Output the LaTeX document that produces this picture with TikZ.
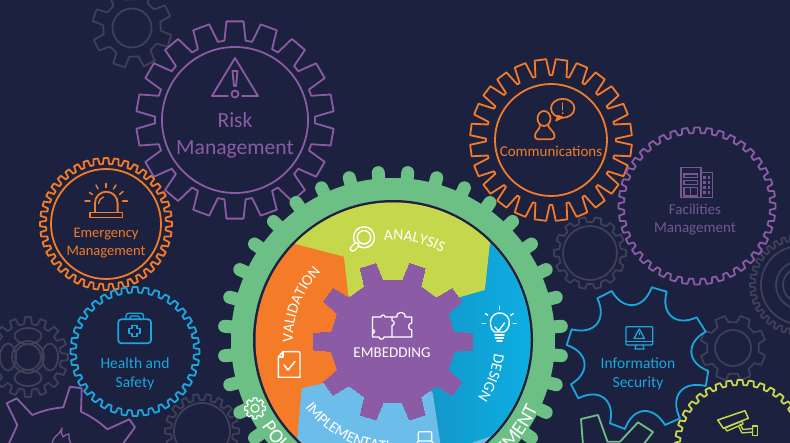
\documentclass[tikz,border=0pt]{standalone}
\usepackage{fontspec}
\setmainfont{Carlito}
\usetikzlibrary{decorations.text}

\definecolor{bgdark}{HTML}{1C2140}
\definecolor{gearpurple}{HTML}{8B5CA5}
\definecolor{dimpurple}{HTML}{75588F}
\definecolor{gearorange}{HTML}{F47B27}
\definecolor{gearblue}{HTML}{1AA7DF}
\definecolor{geargrey}{HTML}{3F4058}
\definecolor{geargreen}{HTML}{6CC085}
\definecolor{gearlime}{HTML}{C5D84C}
\definecolor{sectorlight}{HTML}{6DBDEA}
\definecolor{sectordeep}{HTML}{1590C0}
\definecolor{sectorcyan}{HTML}{0CB0E5}

\newcommand{\sectorfont}{\fontsize{15.5}{15.5}\selectfont\color{white}}
\newcommand{\ringfont}{\fontsize{20}{20}\selectfont\color{white}}

\newcommand{\gear}[8][.3]{%
  \draw[#8, shift={(#2,#3)}] ({#7+(1-#1)*360/#6}:#5)
    \foreach \k in {1,...,#6} {
      -- ({#7+(\k-#1)*360/#6}:#5) -- ({#7+(\k-.65*#1)*360/#6}:#4)
      -- ({#7+(\k+.65*#1)*360/#6}:#4) -- ({#7+(\k+#1)*360/#6}:#5)
    } -- cycle;}

\tikzset{
  gearline/.style={line width=1.8pt, line join=round},
  thinline/.style={line width=1.3pt, line cap=round, line join=round},
  label/.style={align=center, inner sep=0pt},
  whiteicon/.style={draw=white, line width=1.2pt, line cap=round, line join=round},
}

\begin{document}
\begin{tikzpicture}[x=1pt,y=-1pt]
  \useasboundingbox (0,0) rectangle (790,443);
  \clip (0,0) rectangle (790,443);
  \fill[bgdark] (0,0) rectangle (790,443);

  \gear[.3]{132}{28}{40}{29}{8}{19}{geargrey, gearline}
  \draw[geargrey, gearline] (132,28) circle[radius=19.5];
  \gear{28}{357}{40}{33}{16}{0}{geargrey, gearline}
  \draw[geargrey, gearline] (28,357) circle[radius=16];
  \draw[geargrey, gearline] (28,357) circle[radius=13];
  \draw[geargrey, gearline] (28,336) ellipse[x radius=13.5, y radius=8];
  \draw[geargrey, gearline] (28,378) ellipse[x radius=13.5, y radius=8];
  \draw[geargrey, gearline] (8,357) ellipse[x radius=8, y radius=13.5];
  \draw[geargrey, gearline] (50,357) ellipse[x radius=8, y radius=13.5];
  \gear{202}{431}{37}{31}{18}{0}{geargrey, gearline}
  \draw[geargrey, gearline] (202,431) circle[radius=28];
  \gear{590}{253}{36}{31}{14}{0}{geargrey, gearline}
  \draw[geargrey, gearline] (590,253) circle[radius=27];
  \gear{800}{285}{50}{45}{36}{0}{geargrey, gearline}
  \draw[geargrey, gearline] (800,285) circle[radius=39];
  \draw[geargrey, gearline] (800,285) circle[radius=24];
  \draw[geargrey, gearline] (800,285) circle[radius=17];
  \gear[.3]{733}{348}{33}{26}{8}{22}{geargrey, gearline}
  \draw[geargrey, gearline] (733,348) circle[radius=18];

  \gear[.38]{235}{120}{99}{80}{18}{90}{gearpurple, gearline}
  \draw[gearpurple, gearline] (235,120) circle[radius=73];
  \draw[gearpurple, thinline, line width=1.8pt] (235,58) -- (258,96) -- (242,96);
  \draw[gearpurple, thinline, line width=1.8pt] (228,96) -- (212,96) -- (235,58);
  \draw[gearpurple, thinline, line width=1.8pt] (232.5,71) -- (234,86) -- (236,86) -- (237.5,71) -- cycle;
  \draw[gearpurple, line width=1.8pt] (235,94) circle[radius=3.5];
  \node[label, text=gearpurple, font=\fontsize{21.6}{21.6}\selectfont] (riskWord) at (235,120) {Risk};
  \node[label, text=gearpurple, font=\fontsize{21.6}{21.6}\selectfont] (riskMgmt) at (235,149.5) {Management};

  \gear[.33]{106}{224}{66}{60}{40}{0}{gearorange, gearline}
  \draw[gearorange, gearline] (106,224) circle[radius=55];
  \draw[gearorange, thinline, line width=1.8pt] (90,212.5) rectangle (122.5,217.5);
  \draw[gearorange, thinline, line width=1.8pt] (95,212) -- (95,203) arc[start angle=180, end angle=360, radius=11.3] -- (117.6,212);
  \draw[gearorange, thinline] (98.5,203.5) to[bend left=30] (103.5,197);
  \draw[gearorange, thinline, line width=1.5pt] (85,201) -- (90,201);
  \draw[gearorange, thinline, line width=1.5pt] (89.5,192.5) -- (92.5,194.5);
  \draw[gearorange, thinline, line width=1.5pt] (96,185) -- (98,189);
  \draw[gearorange, thinline, line width=1.5pt] (106,183.5) -- (106,187.5);
  \draw[gearorange, thinline, line width=1.5pt] (116,185) -- (113.5,189);
  \draw[gearorange, thinline, line width=1.5pt] (123,191.5) -- (119.5,194.5);
  \draw[gearorange, thinline, line width=1.5pt] (127.5,201) -- (122.5,201);
  \node[label, text=gearorange, font=\fontsize{14.5}{14.5}\selectfont] (emergencyWord) at (106,234) {Emergency};
  \node[label, text=gearorange, font=\fontsize{14.5}{14.5}\selectfont] (emergencyMgmt) at (106,252.5) {Management};

  \gear[.33]{135}{351.5}{64.5}{59}{36}{0}{gearblue, gearline}
  \draw[gearblue, thinline, line width=1.7pt, rounded corners=3pt] (118.3,319.3) rectangle (151,343.3);
  \draw[gearblue, thinline, rounded corners=2.5pt] (126,319) -- (126,313.3) -- (143.5,313.3) -- (143.5,319);
  \draw[gearblue, thinline, rounded corners=1.5pt] (130,319) -- (130,316) -- (139.5,316) -- (139.5,319);
  \draw[gearblue, thinline, line width=1.7pt] (132,325.5) -- (137,325.5) -- (137,328.5) -- (140,328.5) -- (140,333.5) -- (137,333.5) -- (137,336.5) -- (132,336.5) -- (132,333.5) -- (129,333.5) -- (129,328.5) -- (132,328.5) -- cycle;
  \node[label, text=gearblue, font=\fontsize{15.5}{15.5}\selectfont] (healthWord) at (135,363) {Health and};
  \node[label, text=gearblue, font=\fontsize{15.5}{15.5}\selectfont] (safetyWord) at (135,383) {Safety};

  \draw[gearpurple, gearline] (8.3,445) -- (17.3,425) -- (6.7,403.3) -- (16.7,398.3) -- (32.3,415) to[bend left=8] (63.3,407.3) -- (70,386.7) -- (81.7,388.3) -- (81,411.7) to[bend left=8] (107.3,429.3) -- (129.3,419.3) -- (135,427.3) -- (122,445);
  \draw[gearpurple, thinline] (52,445) to[bend left=20] (56,436) to[bend right=15] (62,428) to[bend right=25] (63,437) to[bend left=20] (69,434) to[bend right=20] (72,445);

  \gear[.42]{551}{140}{81}{65}{24}{7.5}{gearorange, gearline}
  \draw[gearorange, gearline] (551,140) circle[radius=56];
  \draw[gearorange, line width=1.7pt] (544,118.5) ellipse[x radius=6.5, y radius=7.5];
  \draw[gearorange, thinline, line width=1.7pt, rounded corners=3pt] (540,125) -- (540,128) -- (535,133) -- (535,139.3) -- (554.5,139.3) -- (554.5,133) -- (549,128) -- (548,125);
  \draw[gearorange, line width=1.7pt] (562.7,108.3) ellipse[x radius=11.7, y radius=9.5];
  \draw[gearorange, thinline, fill=gearorange] (556,120.7) -- (563,117.5) -- (558,115.5) -- cycle;
  \draw[gearorange, thinline, line width=1.5pt] (562.7,103) -- (562.7,110);
  \fill[gearorange] (562.7,113.2) circle[radius=1];
  \node[label, text=gearorange, font=\fontsize{15}{15}\selectfont] (commsWord) at (551,151) {Communications};

  \gear[.33]{697}{206}{78.5}{73}{40}{0}{gearpurple, gearline}
  \draw[dimpurple, line width=1.6pt] (681,167.5) rectangle (701,197.5);
  \draw[dimpurple, line width=1.6pt] (701,172.5) rectangle (712.3,197.5);
  \draw[dimpurple, line width=1.2pt] (684,174) rectangle (697.5,177.5);
  \draw[dimpurple, line width=1.2pt] (684,180.5) rectangle (697.5,184.5);
  \draw[dimpurple, line width=1.2pt] (684,187.5) rectangle (697.5,196);
  \draw[dimpurple, line width=1.2pt] (690.7,187.5) -- (690.7,196);
  \foreach \winrow in {176,181,186,191} {
    \fill[dimpurple] (703,\winrow) rectangle (705.6,{\winrow+2.6});
    \fill[dimpurple] (707.6,\winrow) rectangle (710.2,{\winrow+2.6});
  }
  \node[label, text=dimpurple, font=\fontsize{15}{15}\selectfont] (facilitiesWord) at (695,209) {Facilities};
  \node[label, text=dimpurple, font=\fontsize{15}{15}\selectfont] (facilitiesMgmt) at (695,228.5) {Management};

  \draw[gearblue, gearline] (597.3,298.3) -- (611.7,291) to[bend right=65, looseness=1.5] (651.7,287.3) -- (666.7,291.7) to[bend right=65, looseness=1.5] (696.7,317.3) -- (705.7,331.7) to[bend right=65, looseness=1.5] (708.3,371) -- (705.7,386) to[bend right=65, looseness=1.5] (680,418.3) -- (665,425) to[bend right=65, looseness=1.5] (625,429) -- (610,423.3) to[bend right=65, looseness=1.5] (578.3,398.3) -- (571,384.3) to[bend right=65, looseness=1.5] (566.7,345) -- (571.7,329.3) to[bend right=65, looseness=1.5] cycle;
  \draw[gearblue, thinline, rounded corners=1pt] (626,326.7) rectangle (652.7,345);
  \draw[gearblue, thinline] (626,341.5) -- (652.7,341.5);
  \draw[gearblue, thinline] (639.3,329) -- (644.5,338.5) -- (634,338.5) -- cycle;
  \draw[gearblue, thinline] (636,345) -- (635,349) -- (644,349) -- (643,345);
  \draw[gearblue, thinline, line width=1pt] (639.3,332.5) -- (639.3,335);
  \node[label, text=gearblue, font=\fontsize{15.5}{15.5}\selectfont] (infoWord) at (638,363) {Information};
  \node[label, text=gearblue, font=\fontsize{15.5}{15.5}\selectfont] (securityWord) at (638,383) {Security};

  \draw[geargreen, gearline] (583,445) -- (581,419) -- (598,415) -- (607.5,441.7) -- (620,441.7) -- (638,422.3) -- (653,432) -- (643,445);

  \gear[.33]{740}{445}{65}{60}{36}{0}{gearlime, gearline}
  \draw[gearlime, thinline, line width=1.5pt] (717.7,420) -- (745,410.7) -- (748.3,418.3) -- (723.3,428.3) -- cycle;
  \draw[gearlime, thinline] (725,428) -- (742,421) -- (743,424) -- (727,431) -- cycle;
  \draw[gearlime, thinline] (739,427) -- (742,433) -- (753,432);
  \draw[gearlime, thinline] (740,424) -- (743,429.5) -- (753,428.5);
  \draw[gearlime, thinline, line width=1.5pt] (752.7,426) rectangle (757.3,435.7);

  \foreach \a in {5,15,...,355} {
    \draw[geargreen, line width=13pt, line cap=round] (393,341) ++(\a:155) -- ++(\a:14);
  }
  \fill[geargreen] (393,340) circle[radius=162];
  \fill[bgdark] (393,340) circle[radius=140];

  \begin{scope}
    \clip (393,340) circle[radius=137.5];
    \fill[gearorange] (250,190) rectangle (540,490);
    \fill[gearlime] (250,232) -- (344,256.7) -- (348.3,295) -- (393,341) -- (460,297.3) -- (485,290) -- (495.4,193) -- (540,150) -- (250,150) -- cycle;
    \shade[left color=sectordeep, right color=sectorcyan] (495.4,193) -- (485,290) -- (460,297.3) -- (393,341) -- (432.7,393.3) -- (441.7,453) -- (540,420) -- (540,190) -- cycle;
    \fill[sectorlight] (293,485) -- (301.7,388.3) -- (323.3,383.3) -- (393,341) -- (432.7,393.3) -- (441.7,453) -- (540,420) -- (540,490) -- cycle;
  \end{scope}

  \gear[.25]{392.7}{341.7}{80}{62}{10}{0}{gearpurple, fill=gearpurple, line width=0pt}

  \draw[whiteicon] (372.5,317) -- (381,317) arc[start angle=180, end angle=360, radius=2] -- (392,317) -- (392,320.5) to[bend left=90, looseness=1.5] (392,325.5) -- (392,337) -- (384,337) to[bend left=90, looseness=1.5] (379,337) -- (372.5,337) -- (372.5,329.5) arc[start angle=-90, end angle=90, radius=2] -- cycle;
  \draw[whiteicon] (392,317) -- (397,317) to[bend left=100, looseness=2] (405,317) -- (411.7,317) -- (411.7,323) to[bend right=90, looseness=1.5] (411.7,330) -- (411.7,337) -- (392,337);
  \node[label, text=white, font=\fontsize{15}{15}\selectfont] (embeddingWord) at (392,353) {EMBEDDING};

  \draw[white, line width=1.4pt] (364,237.3) circle[radius=10.5];
  \draw[white, line width=1.4pt] (364,237.3) circle[radius=6.7];
  \draw[white, line width=6pt, line cap=round] (356.5,245) -- (352.5,249);
  \draw[gearlime, line width=3.4pt, line cap=round] (356.5,245) -- (352.5,249);

  \draw[whiteicon, line width=1.4pt] (494.5,332) to[bend left=25] (490.5,324) arc[start angle=170, end angle=370, radius=9.5] to[bend left=25] (504,332) -- cycle;
  \draw[whiteicon, line width=1.4pt] (495,327) -- (498.5,331) -- (504.5,323);
  \draw[whiteicon, line width=1.4pt] (495,335) -- (504,335);
  \draw[whiteicon, line width=1.4pt] (495.5,338) -- (503.5,338);
  \draw[whiteicon, line width=1.4pt] (497,341) -- (502,341);
  \foreach \a in {180,215,270,325,360} {
    \draw[whiteicon, line width=1.4pt] (499.3,323.3) ++(\a:14) -- ++(\a:3);
  }

  \draw[whiteicon, line width=1.4pt] (283,351.7) -- (299,351.7) to[bend left=10] (300,353) -- (300,377.3) -- (278.3,377.3) -- (278.3,357) -- cycle;
  \draw[whiteicon, line width=1.4pt] (278.3,357) -- (283,357) -- (283,351.7);
  \draw[whiteicon, line width=1.5pt] (284,365) -- (288,370) -- (295,361.5);

  \gear[.33]{255}{408.3}{10.5}{8}{8}{0}{whiteicon}
  \draw[whiteicon] (255,408.3) circle[radius=4];
  \draw[whiteicon, rounded corners=1pt] (418.3,431.7) rectangle (431.7,441);
  \draw[whiteicon] (415,446) -- (418.3,441) (431.7,441) -- (435,446);

  \path[decorate, decoration={text along path, text align=center, text={|\sectorfont|ANALYSIS}}] (393,341) ++(-95:101) arc[start angle=-95, end angle=-61, radius=101];
  \path[decorate, decoration={text along path, text align=center, text={|\sectorfont|VALIDATION}}] (393,341) ++(-180:100) arc[start angle=-180, end angle=-137, radius=100];
  \path[decorate, decoration={text along path, text align=center, text={|\sectorfont|DESIGN}}] (393,341) ++(8:102) arc[start angle=8, end angle=33, radius=102];
  \path[decorate, decoration={text along path, text align=left, text={|\sectorfont|IMPLEMENTATI}}] (393,341) ++(-217:110) arc[start angle=-217, end angle=-275, radius=110];
  \path[decorate, decoration={text along path, text align=left, text={|\ringfont|POL}}] (393,341) ++(-213:157) arc[start angle=-213, end angle=-240, radius=157];
  \path[decorate, decoration={text along path, text align=right, text={|\ringfont|EMENT}}] (393,341) ++(60:160) arc[start angle=60, end angle=25, radius=160];
\end{tikzpicture}
\end{document}
